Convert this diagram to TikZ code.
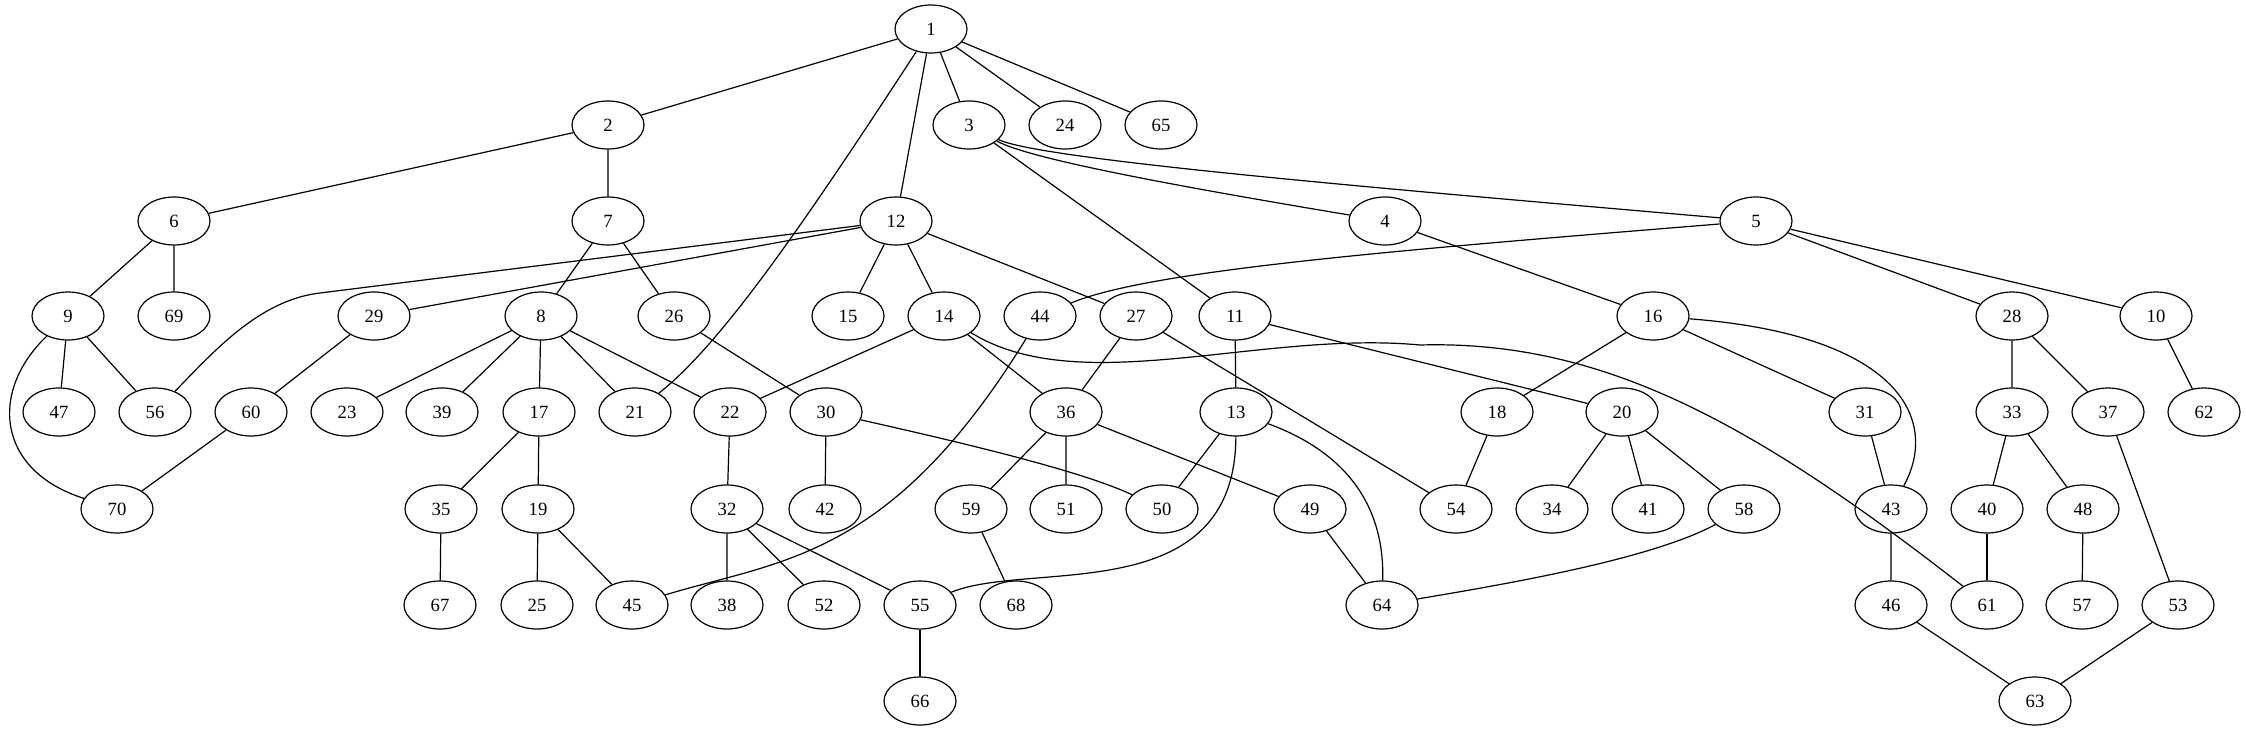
\documentclass[tikz,border=0pt]{standalone}
\usepackage{fontspec}
\setmainfont{Liberation Serif}
\usetikzlibrary{shapes.geometric}

\begin{document}
\begin{tikzpicture}[x=0.75pt,y=-0.75pt,line width=0.9pt,
	vertex/.style={ellipse,draw,minimum width=54pt,minimum height=36pt,inner sep=0pt,font=\fontsize{14pt}{16pt}\selectfont}]
	\useasboundingbox (0,0) rectangle (2246,731);

	%row 1
	\node[vertex] (n1) at (931,29) {1};
	%row 2
	\node[vertex] (n2) at (608,125) {2};
	\node[vertex] (n3) at (969,125) {3};
	\node[vertex] (n24) at (1065,125) {24};
	\node[vertex] (n65) at (1161,125) {65};
	%row 3
	\node[vertex] (n6) at (174,221) {6};
	\node[vertex] (n7) at (608,221) {7};
	\node[vertex] (n12) at (896,221) {12};
	\node[vertex] (n4) at (1385,221) {4};
	\node[vertex] (n5) at (1756,221) {5};
	%row 4
	\node[vertex] (n9) at (68,316) {9};
	\node[vertex] (n69) at (174,316) {69};
	\node[vertex] (n29) at (374,316) {29};
	\node[vertex] (n8) at (541,316) {8};
	\node[vertex] (n26) at (674,316) {26};
	\node[vertex] (n15) at (848,316) {15};
	\node[vertex] (n14) at (944,316) {14};
	\node[vertex] (n44) at (1040,316) {44};
	\node[vertex] (n27) at (1136,316) {27};
	\node[vertex] (n11) at (1235,316) {11};
	\node[vertex] (n16) at (1653,316) {16};
	\node[vertex] (n28) at (2012,316) {28};
	\node[vertex] (n10) at (2156,316) {10};
	%row 5
	\node[vertex] (n47) at (59,412) {47};
	\node[vertex] (n56) at (155,412) {56};
	\node[vertex] (n60) at (251,412) {60};
	\node[vertex] (n23) at (347,412) {23};
	\node[vertex] (n39) at (442,412) {39};
	\node[vertex] (n17) at (539,412) {17};
	\node[vertex] (n21) at (635,412) {21};
	\node[vertex] (n22) at (730,412) {22};
	\node[vertex] (n30) at (826,412) {30};
	\node[vertex] (n36) at (1066,412) {36};
	\node[vertex] (n13) at (1236,412) {13};
	\node[vertex] (n18) at (1497,412) {18};
	\node[vertex] (n20) at (1622,412) {20};
	\node[vertex] (n31) at (1865,412) {31};
	\node[vertex] (n33) at (2012,412) {33};
	\node[vertex] (n37) at (2108,412) {37};
	\node[vertex] (n62) at (2204,412) {62};
	%row 6
	\node[vertex] (n70) at (117,509) {70};
	\node[vertex] (n35) at (441,509) {35};
	\node[vertex] (n19) at (538,509) {19};
	\node[vertex] (n32) at (727,509) {32};
	\node[vertex] (n42) at (825,509) {42};
	\node[vertex] (n59) at (971,509) {59};
	\node[vertex] (n51) at (1066,509) {51};
	\node[vertex] (n50) at (1162,509) {50};
	\node[vertex] (n49) at (1310,509) {49};
	\node[vertex] (n54) at (1456,509) {54};
	\node[vertex] (n34) at (1552,509) {34};
	\node[vertex] (n41) at (1648,509) {41};
	\node[vertex] (n58) at (1744,509) {58};
	\node[vertex] (n43) at (1891,509) {43};
	\node[vertex] (n40) at (1987,509) {40};
	\node[vertex] (n48) at (2083,509) {48};
	%row 7
	\node[vertex] (n67) at (440,605) {67};
	\node[vertex] (n25) at (537,605) {25};
	\node[vertex] (n45) at (632,605) {45};
	\node[vertex] (n38) at (727,605) {38};
	\node[vertex] (n52) at (824,605) {52};
	\node[vertex] (n55) at (920,605) {55};
	\node[vertex] (n68) at (1016,605) {68};
	\node[vertex] (n64) at (1382,605) {64};
	\node[vertex] (n46) at (1891,605) {46};
	\node[vertex] (n61) at (1987,605) {61};
	\node[vertex] (n57) at (2082,605) {57};
	\node[vertex] (n53) at (2178,605) {53};
	%row 8
	\node[vertex] (n66) at (920,701) {66};
	\node[vertex] (n63) at (2035,701) {63};

	%straight edges
	\draw (n1)--(n2) (n1)--(n3) (n1)--(n24) (n1)--(n65) (n1)--(n12);
	\draw (n2)--(n6) (n2)--(n7);
	\draw (n3)--(n11);
	\draw (n6)--(n9) (n6)--(n69);
	\draw (n7)--(n8) (n7)--(n26);
	\draw (n12)--(n29) (n12)--(n15) (n12)--(n14) (n12)--(n27);
	\draw (n4)--(n16);
	\draw (n5)--(n28) (n5)--(n10);
	\draw (n9)--(n47) (n9)--(n56);
	\draw (n29)--(n60) (n60)--(n70);
	\draw (n8)--(n23) (n8)--(n39) (n8)--(n17) (n8)--(n21) (n8)--(n22);
	\draw (n26)--(n30) (n30)--(n42);
	\draw (n14)--(n22) (n14)--(n36);
	\draw (n27)--(n36) (n27)--(n54);
	\draw (n11)--(n13) (n11)--(n20);
	\draw (n16)--(n18) (n16)--(n31);
	\draw (n28)--(n33) (n28)--(n37);
	\draw (n10)--(n62);
	\draw (n17)--(n35) (n17)--(n19);
	\draw (n22)--(n32);
	\draw (n36)--(n59) (n36)--(n51) (n36)--(n49);
	\draw (n13)--(n50);
	\draw (n18)--(n54);
	\draw (n20)--(n34) (n20)--(n41) (n20)--(n58);
	\draw (n31)--(n43);
	\draw (n33)--(n40) (n33)--(n48);
	\draw (n37)--(n53);
	\draw (n35)--(n67);
	\draw (n19)--(n25) (n19)--(n45);
	\draw (n32)--(n38) (n32)--(n52) (n32)--(n55);
	\draw (n59)--(n68);
	\draw (n49)--(n64);
	\draw (n43)--(n46) (n46)--(n63);
	\draw (n40)--(n61);
	\draw (n48)--(n57);
	\draw (n55)--(n66);
	\draw (n53)--(n63);

	%curved edges
	\draw (n1) .. controls (800,230) and (720,345) .. (n21);
	\draw (n3) .. controls (1030,160) and (1200,190) .. (n4);
	\draw (n3) .. controls (1040,160) and (1400,190) .. (n5);
	\draw (n12) -- (320,293) .. controls (260,300) and (215,350) .. (n56);
	\draw (n5) .. controls (1400,250) and (1150,270) .. (n44);
	\draw (n9) .. controls (-10,390) and (-5,470) .. (n70);
	\draw (n44) .. controls (890,560) and (780,560) .. (n45);
	\draw (n14) .. controls (1080,400) and (1260,330) .. (1420,345)
		.. controls (1600,340) and (1750,420) .. (n61);
	\draw (n16) .. controls (1900,335) and (1940,420) .. (n43);
	\draw (n30) .. controls (950,440) and (1080,470) .. (n50);
	\draw (n13) .. controls (1235,610) and (1030,560) .. (n55);
	\draw (n13) .. controls (1340,450) and (1385,500) .. (n64);
	\draw (n58) .. controls (1650,560) and (1500,585) .. (n64);
\end{tikzpicture}
\end{document}
